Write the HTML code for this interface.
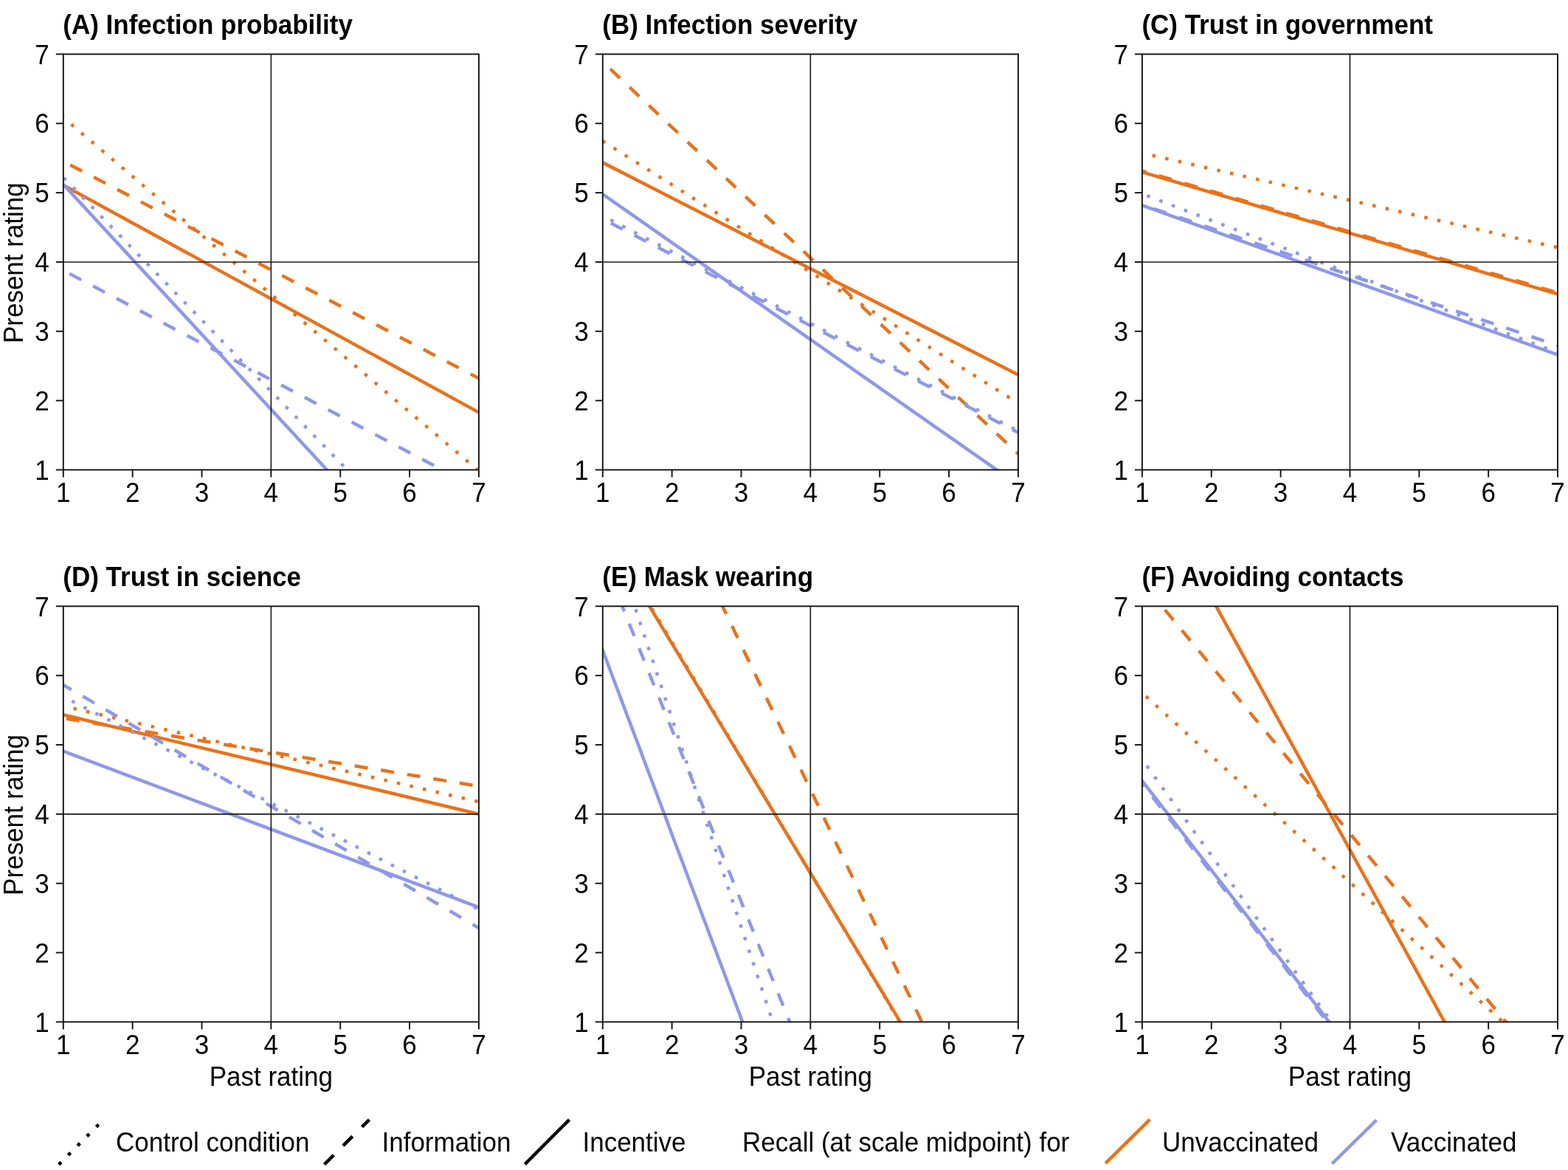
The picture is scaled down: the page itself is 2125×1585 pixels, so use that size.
<!DOCTYPE html>
<html><head><meta charset="utf-8"><title>Recall figure</title>
<style>
html,body{margin:0;padding:0;background:#fff;}
svg{display:block;}
text{font-family:"Liberation Sans",Arial,sans-serif;fill:#000;}
.t{font-weight:bold;font-size:35px;}
.n{font-size:35px;}
.l{font-size:35px;}
</style></head><body>
<svg width="2125" height="1585" viewBox="0 0 2125 1585">
<rect x="0" y="0" width="2125" height="1585" fill="#fff"/>
<defs>
<clipPath id="cpA"><rect x="85.80" y="73.40" width="563.10" height="563.10"/></clipPath>
<clipPath id="cpB"><rect x="816.80" y="73.40" width="563.10" height="563.10"/></clipPath>
<clipPath id="cpC"><rect x="1547.90" y="73.40" width="563.10" height="563.10"/></clipPath>
<clipPath id="cpD"><rect x="85.80" y="821.30" width="563.10" height="563.10"/></clipPath>
<clipPath id="cpE"><rect x="816.80" y="821.30" width="563.10" height="563.10"/></clipPath>
<clipPath id="cpF"><rect x="1547.90" y="821.30" width="563.10" height="563.10"/></clipPath>
</defs>
<text class="t" transform="translate(85.30,46.40) scale(1,1.04)">(A) Infection probability</text>
<g clip-path="url(#cpA)" fill="none" stroke-width="4.5" stroke-linecap="butt">
<line x1="50.70" y1="231.59" x2="684.00" y2="577.89" stroke="#e8721c"/>
<line x1="50.34" y1="199.98" x2="684.36" y2="531.04" stroke="#e8721c" stroke-dasharray="18 18" stroke-dashoffset="21.44"/>
<line x1="55.32" y1="133.36" x2="679.38" y2="663.91" stroke="#e8721c" stroke-dasharray="4.5 13.5" stroke-dashoffset="17.98"/>
<line x1="58.66" y1="220.46" x2="470.14" y2="665.88" stroke="#8e98e8"/>
<line x1="50.40" y1="347.68" x2="634.84" y2="655.12" stroke="#8e98e8" stroke-dasharray="18 18" stroke-dashoffset="22.47"/>
<line x1="57.94" y1="211.47" x2="498.35" y2="665.20" stroke="#8e98e8" stroke-dasharray="4.5 13.5" stroke-dashoffset="13.11"/>
</g>
<g stroke="#1a1a1a" stroke-width="1.6" fill="none"><line x1="367.35" y1="73.40" x2="367.35" y2="636.50"/><line x1="85.80" y1="354.95" x2="648.90" y2="354.95"/></g>
<g stroke="#111" stroke-width="1.9" fill="none" stroke-linecap="butt"><rect x="85.80" y="73.40" width="563.10" height="563.10"/><line x1="85.80" y1="636.50" x2="85.80" y2="646.50"/><line x1="75.80" y1="636.50" x2="85.80" y2="636.50"/><line x1="179.65" y1="636.50" x2="179.65" y2="646.50"/><line x1="75.80" y1="542.65" x2="85.80" y2="542.65"/><line x1="273.50" y1="636.50" x2="273.50" y2="646.50"/><line x1="75.80" y1="448.80" x2="85.80" y2="448.80"/><line x1="367.35" y1="636.50" x2="367.35" y2="646.50"/><line x1="75.80" y1="354.95" x2="85.80" y2="354.95"/><line x1="461.20" y1="636.50" x2="461.20" y2="646.50"/><line x1="75.80" y1="261.10" x2="85.80" y2="261.10"/><line x1="555.05" y1="636.50" x2="555.05" y2="646.50"/><line x1="75.80" y1="167.25" x2="85.80" y2="167.25"/><line x1="648.90" y1="636.50" x2="648.90" y2="646.50"/><line x1="75.80" y1="73.40" x2="85.80" y2="73.40"/></g>
<text class="n" transform="translate(85.80,680.00) scale(1,1.04)" text-anchor="middle">1</text><text class="n" transform="translate(66.80,649.70) scale(1,1.04)" text-anchor="end">1</text><text class="n" transform="translate(179.65,680.00) scale(1,1.04)" text-anchor="middle">2</text><text class="n" transform="translate(66.80,555.85) scale(1,1.04)" text-anchor="end">2</text><text class="n" transform="translate(273.50,680.00) scale(1,1.04)" text-anchor="middle">3</text><text class="n" transform="translate(66.80,462.00) scale(1,1.04)" text-anchor="end">3</text><text class="n" transform="translate(367.35,680.00) scale(1,1.04)" text-anchor="middle">4</text><text class="n" transform="translate(66.80,368.15) scale(1,1.04)" text-anchor="end">4</text><text class="n" transform="translate(461.20,680.00) scale(1,1.04)" text-anchor="middle">5</text><text class="n" transform="translate(66.80,274.30) scale(1,1.04)" text-anchor="end">5</text><text class="n" transform="translate(555.05,680.00) scale(1,1.04)" text-anchor="middle">6</text><text class="n" transform="translate(66.80,180.45) scale(1,1.04)" text-anchor="end">6</text><text class="n" transform="translate(648.90,680.00) scale(1,1.04)" text-anchor="middle">7</text><text class="n" transform="translate(66.80,86.60) scale(1,1.04)" text-anchor="end">7</text>
<text class="l" transform="translate(30.60,356.15) rotate(-90) scale(1,1.04)" text-anchor="middle">Present rating</text>
<text class="t" transform="translate(816.30,46.40) scale(1,1.04)">(B) Infection severity</text>
<g clip-path="url(#cpB)" fill="none" stroke-width="4.5" stroke-linecap="butt">
<line x1="781.17" y1="202.09" x2="1415.53" y2="525.92" stroke="#e8721c"/>
<line x1="787.70" y1="56.37" x2="1409.00" y2="642.36" stroke="#e8721c" stroke-dasharray="18 18" stroke-dashoffset="17.92"/>
<line x1="782.97" y1="169.75" x2="1413.73" y2="567.55" stroke="#e8721c" stroke-dasharray="4.5 13.5" stroke-dashoffset="14.46"/>
<line x1="784.02" y1="240.05" x2="1383.58" y2="659.43" stroke="#8e98e8"/>
<line x1="781.22" y1="278.39" x2="1415.48" y2="604.19" stroke="#8e98e8" stroke-dasharray="18 18" stroke-dashoffset="19.73"/>
<line x1="781.28" y1="273.97" x2="1415.42" y2="602.14" stroke="#8e98e8" stroke-dasharray="4.5 13.5" stroke-dashoffset="2.05"/>
</g>
<g stroke="#1a1a1a" stroke-width="1.6" fill="none"><line x1="1098.35" y1="73.40" x2="1098.35" y2="636.50"/><line x1="816.80" y1="354.95" x2="1379.90" y2="354.95"/></g>
<g stroke="#111" stroke-width="1.9" fill="none" stroke-linecap="butt"><rect x="816.80" y="73.40" width="563.10" height="563.10"/><line x1="816.80" y1="636.50" x2="816.80" y2="646.50"/><line x1="806.80" y1="636.50" x2="816.80" y2="636.50"/><line x1="910.65" y1="636.50" x2="910.65" y2="646.50"/><line x1="806.80" y1="542.65" x2="816.80" y2="542.65"/><line x1="1004.50" y1="636.50" x2="1004.50" y2="646.50"/><line x1="806.80" y1="448.80" x2="816.80" y2="448.80"/><line x1="1098.35" y1="636.50" x2="1098.35" y2="646.50"/><line x1="806.80" y1="354.95" x2="816.80" y2="354.95"/><line x1="1192.20" y1="636.50" x2="1192.20" y2="646.50"/><line x1="806.80" y1="261.10" x2="816.80" y2="261.10"/><line x1="1286.05" y1="636.50" x2="1286.05" y2="646.50"/><line x1="806.80" y1="167.25" x2="816.80" y2="167.25"/><line x1="1379.90" y1="636.50" x2="1379.90" y2="646.50"/><line x1="806.80" y1="73.40" x2="816.80" y2="73.40"/></g>
<text class="n" transform="translate(816.80,680.00) scale(1,1.04)" text-anchor="middle">1</text><text class="n" transform="translate(797.80,649.70) scale(1,1.04)" text-anchor="end">1</text><text class="n" transform="translate(910.65,680.00) scale(1,1.04)" text-anchor="middle">2</text><text class="n" transform="translate(797.80,555.85) scale(1,1.04)" text-anchor="end">2</text><text class="n" transform="translate(1004.50,680.00) scale(1,1.04)" text-anchor="middle">3</text><text class="n" transform="translate(797.80,462.00) scale(1,1.04)" text-anchor="end">3</text><text class="n" transform="translate(1098.35,680.00) scale(1,1.04)" text-anchor="middle">4</text><text class="n" transform="translate(797.80,368.15) scale(1,1.04)" text-anchor="end">4</text><text class="n" transform="translate(1192.20,680.00) scale(1,1.04)" text-anchor="middle">5</text><text class="n" transform="translate(797.80,274.30) scale(1,1.04)" text-anchor="end">5</text><text class="n" transform="translate(1286.05,680.00) scale(1,1.04)" text-anchor="middle">6</text><text class="n" transform="translate(797.80,180.45) scale(1,1.04)" text-anchor="end">6</text><text class="n" transform="translate(1379.90,680.00) scale(1,1.04)" text-anchor="middle">7</text><text class="n" transform="translate(797.80,86.60) scale(1,1.04)" text-anchor="end">7</text>
<text class="t" transform="translate(1547.40,46.40) scale(1,1.04)">(C) Trust in government</text>
<g clip-path="url(#cpC)" fill="none" stroke-width="4.5" stroke-linecap="butt">
<line x1="1509.52" y1="221.97" x2="2149.38" y2="409.66" stroke="#e8721c"/>
<line x1="1509.51" y1="220.29" x2="2149.39" y2="407.77" stroke="#e8721c" stroke-dasharray="18 18" stroke-dashoffset="8.24"/>
<line x1="1508.89" y1="198.56" x2="2150.01" y2="344.10" stroke="#e8721c" stroke-dasharray="4.5 13.5" stroke-dashoffset="17.93"/>
<line x1="1510.26" y1="264.64" x2="2148.64" y2="494.25" stroke="#8e98e8"/>
<line x1="1510.01" y1="264.70" x2="2148.89" y2="480.86" stroke="#8e98e8" stroke-dasharray="18 18" stroke-dashoffset="15.11"/>
<line x1="1510.54" y1="248.42" x2="2148.36" y2="492.17" stroke="#8e98e8" stroke-dasharray="4.5 13.5" stroke-dashoffset="7.09"/>
</g>
<g stroke="#1a1a1a" stroke-width="1.6" fill="none"><line x1="1829.45" y1="73.40" x2="1829.45" y2="636.50"/><line x1="1547.90" y1="354.95" x2="2111.00" y2="354.95"/></g>
<g stroke="#111" stroke-width="1.9" fill="none" stroke-linecap="butt"><rect x="1547.90" y="73.40" width="563.10" height="563.10"/><line x1="1547.90" y1="636.50" x2="1547.90" y2="646.50"/><line x1="1537.90" y1="636.50" x2="1547.90" y2="636.50"/><line x1="1641.75" y1="636.50" x2="1641.75" y2="646.50"/><line x1="1537.90" y1="542.65" x2="1547.90" y2="542.65"/><line x1="1735.60" y1="636.50" x2="1735.60" y2="646.50"/><line x1="1537.90" y1="448.80" x2="1547.90" y2="448.80"/><line x1="1829.45" y1="636.50" x2="1829.45" y2="646.50"/><line x1="1537.90" y1="354.95" x2="1547.90" y2="354.95"/><line x1="1923.30" y1="636.50" x2="1923.30" y2="646.50"/><line x1="1537.90" y1="261.10" x2="1547.90" y2="261.10"/><line x1="2017.15" y1="636.50" x2="2017.15" y2="646.50"/><line x1="1537.90" y1="167.25" x2="1547.90" y2="167.25"/><line x1="2111.00" y1="636.50" x2="2111.00" y2="646.50"/><line x1="1537.90" y1="73.40" x2="1547.90" y2="73.40"/></g>
<text class="n" transform="translate(1547.90,680.00) scale(1,1.04)" text-anchor="middle">1</text><text class="n" transform="translate(1528.90,649.70) scale(1,1.04)" text-anchor="end">1</text><text class="n" transform="translate(1641.75,680.00) scale(1,1.04)" text-anchor="middle">2</text><text class="n" transform="translate(1528.90,555.85) scale(1,1.04)" text-anchor="end">2</text><text class="n" transform="translate(1735.60,680.00) scale(1,1.04)" text-anchor="middle">3</text><text class="n" transform="translate(1528.90,462.00) scale(1,1.04)" text-anchor="end">3</text><text class="n" transform="translate(1829.45,680.00) scale(1,1.04)" text-anchor="middle">4</text><text class="n" transform="translate(1528.90,368.15) scale(1,1.04)" text-anchor="end">4</text><text class="n" transform="translate(1923.30,680.00) scale(1,1.04)" text-anchor="middle">5</text><text class="n" transform="translate(1528.90,274.30) scale(1,1.04)" text-anchor="end">5</text><text class="n" transform="translate(2017.15,680.00) scale(1,1.04)" text-anchor="middle">6</text><text class="n" transform="translate(1528.90,180.45) scale(1,1.04)" text-anchor="end">6</text><text class="n" transform="translate(2111.00,680.00) scale(1,1.04)" text-anchor="middle">7</text><text class="n" transform="translate(1528.90,86.60) scale(1,1.04)" text-anchor="end">7</text>
<text class="t" transform="translate(85.30,794.30) scale(1,1.04)">(D) Trust in science</text>
<g clip-path="url(#cpD)" fill="none" stroke-width="4.5" stroke-linecap="butt">
<line x1="46.90" y1="958.97" x2="687.80" y2="1112.15" stroke="#e8721c"/>
<line x1="46.33" y1="966.41" x2="688.37" y2="1071.49" stroke="#e8721c" stroke-dasharray="18 18" stroke-dashoffset="27.85"/>
<line x1="46.82" y1="947.57" x2="687.88" y2="1095.12" stroke="#e8721c" stroke-dasharray="4.5 13.5" stroke-dashoffset="0.03"/>
<line x1="48.36" y1="1003.57" x2="686.34" y2="1243.24" stroke="#8e98e8"/>
<line x1="51.27" y1="907.63" x2="683.43" y2="1277.23" stroke="#8e98e8" stroke-dasharray="18 18" stroke-dashoffset="1.32"/>
<line x1="50.20" y1="925.54" x2="684.50" y2="1250.31" stroke="#8e98e8" stroke-dasharray="4.5 13.5" stroke-dashoffset="1.03"/>
</g>
<g stroke="#1a1a1a" stroke-width="1.6" fill="none"><line x1="367.35" y1="821.30" x2="367.35" y2="1384.40"/><line x1="85.80" y1="1102.85" x2="648.90" y2="1102.85"/></g>
<g stroke="#111" stroke-width="1.9" fill="none" stroke-linecap="butt"><rect x="85.80" y="821.30" width="563.10" height="563.10"/><line x1="85.80" y1="1384.40" x2="85.80" y2="1394.40"/><line x1="75.80" y1="1384.40" x2="85.80" y2="1384.40"/><line x1="179.65" y1="1384.40" x2="179.65" y2="1394.40"/><line x1="75.80" y1="1290.55" x2="85.80" y2="1290.55"/><line x1="273.50" y1="1384.40" x2="273.50" y2="1394.40"/><line x1="75.80" y1="1196.70" x2="85.80" y2="1196.70"/><line x1="367.35" y1="1384.40" x2="367.35" y2="1394.40"/><line x1="75.80" y1="1102.85" x2="85.80" y2="1102.85"/><line x1="461.20" y1="1384.40" x2="461.20" y2="1394.40"/><line x1="75.80" y1="1009.00" x2="85.80" y2="1009.00"/><line x1="555.05" y1="1384.40" x2="555.05" y2="1394.40"/><line x1="75.80" y1="915.15" x2="85.80" y2="915.15"/><line x1="648.90" y1="1384.40" x2="648.90" y2="1394.40"/><line x1="75.80" y1="821.30" x2="85.80" y2="821.30"/></g>
<text class="n" transform="translate(85.80,1427.90) scale(1,1.04)" text-anchor="middle">1</text><text class="n" transform="translate(66.80,1397.60) scale(1,1.04)" text-anchor="end">1</text><text class="n" transform="translate(179.65,1427.90) scale(1,1.04)" text-anchor="middle">2</text><text class="n" transform="translate(66.80,1303.75) scale(1,1.04)" text-anchor="end">2</text><text class="n" transform="translate(273.50,1427.90) scale(1,1.04)" text-anchor="middle">3</text><text class="n" transform="translate(66.80,1209.90) scale(1,1.04)" text-anchor="end">3</text><text class="n" transform="translate(367.35,1427.90) scale(1,1.04)" text-anchor="middle">4</text><text class="n" transform="translate(66.80,1116.05) scale(1,1.04)" text-anchor="end">4</text><text class="n" transform="translate(461.20,1427.90) scale(1,1.04)" text-anchor="middle">5</text><text class="n" transform="translate(66.80,1022.20) scale(1,1.04)" text-anchor="end">5</text><text class="n" transform="translate(555.05,1427.90) scale(1,1.04)" text-anchor="middle">6</text><text class="n" transform="translate(66.80,928.35) scale(1,1.04)" text-anchor="end">6</text><text class="n" transform="translate(648.90,1427.90) scale(1,1.04)" text-anchor="middle">7</text><text class="n" transform="translate(66.80,834.50) scale(1,1.04)" text-anchor="end">7</text>
<text class="l" transform="translate(30.60,1104.05) rotate(-90) scale(1,1.04)" text-anchor="middle">Present rating</text>
<text class="l" transform="translate(367.35,1470.80) scale(1,1.04)" text-anchor="middle">Past rating</text>
<text class="t" transform="translate(816.30,794.30) scale(1,1.04)">(E) Mask wearing</text>
<g clip-path="url(#cpE)" fill="none" stroke-width="4.5" stroke-linecap="butt">
<line x1="859.48" y1="787.06" x2="1240.75" y2="1418.64" stroke="#e8721c"/>
<line x1="961.86" y1="785.24" x2="1266.66" y2="1420.46" stroke="#e8721c" stroke-dasharray="18 18" stroke-dashoffset="2.33"/>
<line x1="860.98" y1="787.00" x2="1240.00" y2="1418.70" stroke="#e8721c" stroke-dasharray="4.5 13.5" stroke-dashoffset="10.77"/>
<line x1="802.71" y1="843.46" x2="1020.37" y2="1421.84" stroke="#8e98e8"/>
<line x1="828.31" y1="784.20" x2="1085.15" y2="1421.50" stroke="#8e98e8" stroke-dasharray="18 18" stroke-dashoffset="6.64"/>
<line x1="847.44" y1="783.34" x2="1059.92" y2="1422.36" stroke="#8e98e8" stroke-dasharray="4.5 13.5" stroke-dashoffset="9.76"/>
</g>
<g stroke="#1a1a1a" stroke-width="1.6" fill="none"><line x1="1098.35" y1="821.30" x2="1098.35" y2="1384.40"/><line x1="816.80" y1="1102.85" x2="1379.90" y2="1102.85"/></g>
<g stroke="#111" stroke-width="1.9" fill="none" stroke-linecap="butt"><rect x="816.80" y="821.30" width="563.10" height="563.10"/><line x1="816.80" y1="1384.40" x2="816.80" y2="1394.40"/><line x1="806.80" y1="1384.40" x2="816.80" y2="1384.40"/><line x1="910.65" y1="1384.40" x2="910.65" y2="1394.40"/><line x1="806.80" y1="1290.55" x2="816.80" y2="1290.55"/><line x1="1004.50" y1="1384.40" x2="1004.50" y2="1394.40"/><line x1="806.80" y1="1196.70" x2="816.80" y2="1196.70"/><line x1="1098.35" y1="1384.40" x2="1098.35" y2="1394.40"/><line x1="806.80" y1="1102.85" x2="816.80" y2="1102.85"/><line x1="1192.20" y1="1384.40" x2="1192.20" y2="1394.40"/><line x1="806.80" y1="1009.00" x2="816.80" y2="1009.00"/><line x1="1286.05" y1="1384.40" x2="1286.05" y2="1394.40"/><line x1="806.80" y1="915.15" x2="816.80" y2="915.15"/><line x1="1379.90" y1="1384.40" x2="1379.90" y2="1394.40"/><line x1="806.80" y1="821.30" x2="816.80" y2="821.30"/></g>
<text class="n" transform="translate(816.80,1427.90) scale(1,1.04)" text-anchor="middle">1</text><text class="n" transform="translate(797.80,1397.60) scale(1,1.04)" text-anchor="end">1</text><text class="n" transform="translate(910.65,1427.90) scale(1,1.04)" text-anchor="middle">2</text><text class="n" transform="translate(797.80,1303.75) scale(1,1.04)" text-anchor="end">2</text><text class="n" transform="translate(1004.50,1427.90) scale(1,1.04)" text-anchor="middle">3</text><text class="n" transform="translate(797.80,1209.90) scale(1,1.04)" text-anchor="end">3</text><text class="n" transform="translate(1098.35,1427.90) scale(1,1.04)" text-anchor="middle">4</text><text class="n" transform="translate(797.80,1116.05) scale(1,1.04)" text-anchor="end">4</text><text class="n" transform="translate(1192.20,1427.90) scale(1,1.04)" text-anchor="middle">5</text><text class="n" transform="translate(797.80,1022.20) scale(1,1.04)" text-anchor="end">5</text><text class="n" transform="translate(1286.05,1427.90) scale(1,1.04)" text-anchor="middle">6</text><text class="n" transform="translate(797.80,928.35) scale(1,1.04)" text-anchor="end">6</text><text class="n" transform="translate(1379.90,1427.90) scale(1,1.04)" text-anchor="middle">7</text><text class="n" transform="translate(797.80,834.50) scale(1,1.04)" text-anchor="end">7</text>
<text class="l" transform="translate(1098.35,1470.80) scale(1,1.04)" text-anchor="middle">Past rating</text>
<text class="t" transform="translate(1547.40,794.30) scale(1,1.04)">(F) Avoiding contacts</text>
<g clip-path="url(#cpF)" fill="none" stroke-width="4.5" stroke-linecap="butt">
<line x1="1628.86" y1="786.25" x2="1976.92" y2="1419.45" stroke="#e8721c"/>
<line x1="1549.24" y1="790.49" x2="2066.30" y2="1415.21" stroke="#e8721c" stroke-dasharray="18 18" stroke-dashoffset="25.71"/>
<line x1="1518.34" y1="911.66" x2="2066.42" y2="1411.35" stroke="#e8721c" stroke-dasharray="4.5 13.5" stroke-dashoffset="7.06"/>
<line x1="1523.38" y1="1026.20" x2="1825.81" y2="1416.00" stroke="#8e98e8"/>
<line x1="1523.36" y1="1029.97" x2="1823.20" y2="1415.99" stroke="#8e98e8" stroke-dasharray="18 18" stroke-dashoffset="9.13"/>
<line x1="1524.49" y1="996.46" x2="1827.90" y2="1416.83" stroke="#8e98e8" stroke-dasharray="4.5 13.5" stroke-dashoffset="3.37"/>
</g>
<g stroke="#1a1a1a" stroke-width="1.6" fill="none"><line x1="1829.45" y1="821.30" x2="1829.45" y2="1384.40"/><line x1="1547.90" y1="1102.85" x2="2111.00" y2="1102.85"/></g>
<g stroke="#111" stroke-width="1.9" fill="none" stroke-linecap="butt"><rect x="1547.90" y="821.30" width="563.10" height="563.10"/><line x1="1547.90" y1="1384.40" x2="1547.90" y2="1394.40"/><line x1="1537.90" y1="1384.40" x2="1547.90" y2="1384.40"/><line x1="1641.75" y1="1384.40" x2="1641.75" y2="1394.40"/><line x1="1537.90" y1="1290.55" x2="1547.90" y2="1290.55"/><line x1="1735.60" y1="1384.40" x2="1735.60" y2="1394.40"/><line x1="1537.90" y1="1196.70" x2="1547.90" y2="1196.70"/><line x1="1829.45" y1="1384.40" x2="1829.45" y2="1394.40"/><line x1="1537.90" y1="1102.85" x2="1547.90" y2="1102.85"/><line x1="1923.30" y1="1384.40" x2="1923.30" y2="1394.40"/><line x1="1537.90" y1="1009.00" x2="1547.90" y2="1009.00"/><line x1="2017.15" y1="1384.40" x2="2017.15" y2="1394.40"/><line x1="1537.90" y1="915.15" x2="1547.90" y2="915.15"/><line x1="2111.00" y1="1384.40" x2="2111.00" y2="1394.40"/><line x1="1537.90" y1="821.30" x2="1547.90" y2="821.30"/></g>
<text class="n" transform="translate(1547.90,1427.90) scale(1,1.04)" text-anchor="middle">1</text><text class="n" transform="translate(1528.90,1397.60) scale(1,1.04)" text-anchor="end">1</text><text class="n" transform="translate(1641.75,1427.90) scale(1,1.04)" text-anchor="middle">2</text><text class="n" transform="translate(1528.90,1303.75) scale(1,1.04)" text-anchor="end">2</text><text class="n" transform="translate(1735.60,1427.90) scale(1,1.04)" text-anchor="middle">3</text><text class="n" transform="translate(1528.90,1209.90) scale(1,1.04)" text-anchor="end">3</text><text class="n" transform="translate(1829.45,1427.90) scale(1,1.04)" text-anchor="middle">4</text><text class="n" transform="translate(1528.90,1116.05) scale(1,1.04)" text-anchor="end">4</text><text class="n" transform="translate(1923.30,1427.90) scale(1,1.04)" text-anchor="middle">5</text><text class="n" transform="translate(1528.90,1022.20) scale(1,1.04)" text-anchor="end">5</text><text class="n" transform="translate(2017.15,1427.90) scale(1,1.04)" text-anchor="middle">6</text><text class="n" transform="translate(1528.90,928.35) scale(1,1.04)" text-anchor="end">6</text><text class="n" transform="translate(2111.00,1427.90) scale(1,1.04)" text-anchor="middle">7</text><text class="n" transform="translate(1528.90,834.50) scale(1,1.04)" text-anchor="end">7</text>
<text class="l" transform="translate(1829.45,1470.80) scale(1,1.04)" text-anchor="middle">Past rating</text>
<g fill="none" stroke-width="4.5" stroke-linecap="butt">
<line x1="79.7" y1="1577.6" x2="134.5" y2="1522.6" stroke="#000" stroke-dasharray="4.5 13.5" stroke-dashoffset="0"/>
<line x1="439.5" y1="1577.5" x2="500.5" y2="1516.8" stroke="#000" stroke-dasharray="18 18"/>
<line x1="711.4" y1="1577.1" x2="771.6" y2="1516.8" stroke="#000"/>
<line x1="1498.2" y1="1575.9" x2="1558.3" y2="1516.7" stroke="#e8721c"/>
<line x1="1805.3" y1="1576.5" x2="1865.4" y2="1517.3" stroke="#8e98e8"/>
</g>
<text class="l" transform="translate(157.00,1560.30) scale(1,1.04)">Control condition</text>
<text class="l" transform="translate(517.50,1560.30) scale(1,1.04)">Information</text>
<text class="l" transform="translate(789.50,1560.30) scale(1,1.04)">Incentive</text>
<text class="l" transform="translate(1006.00,1560.30) scale(1,1.04)">Recall (at scale midpoint) for</text>
<text class="l" transform="translate(1575.00,1560.30) scale(1,1.04)">Unvaccinated</text>
<text class="l" transform="translate(1885.00,1560.30) scale(1,1.04)">Vaccinated</text>
</svg>
</body></html>
